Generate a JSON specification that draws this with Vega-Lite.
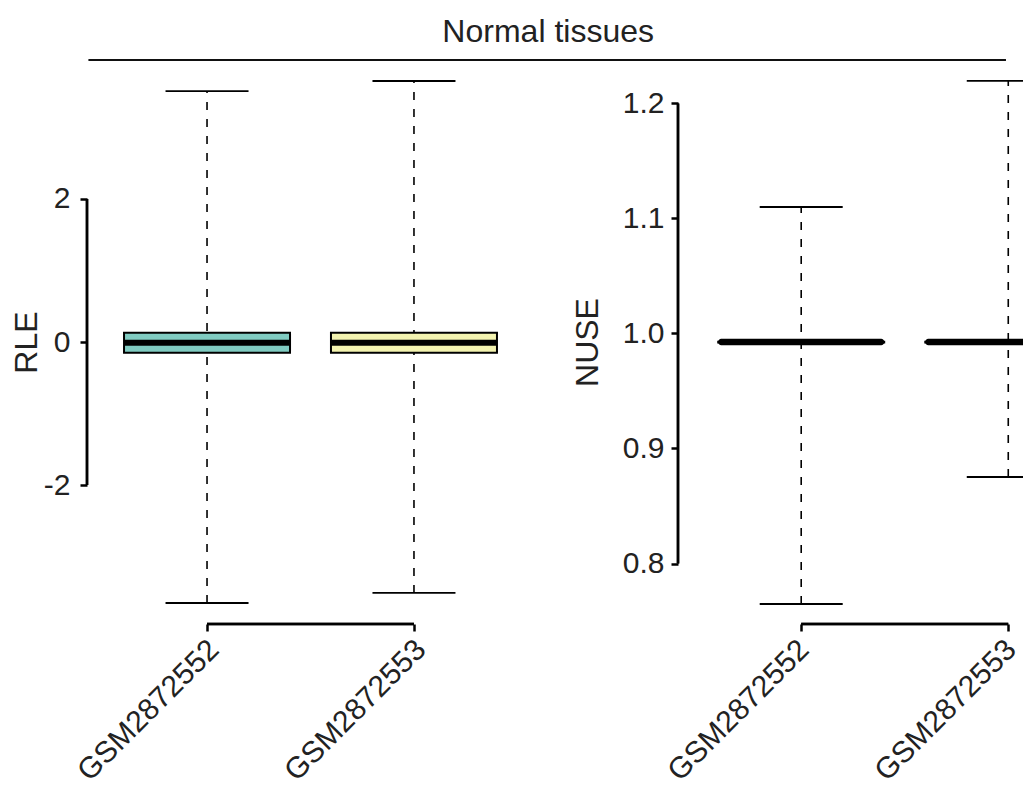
{
  "$schema": "https://vega.github.io/schema/vega-lite/v6.json",
  "padding": {"left": 10, "top": 16, "right": 0, "bottom": 0},
  "background": "white",
  "config": {
    "font": "Liberation Sans",
    "view": {"stroke": null},
    "scale": {"continuousPadding": 0},
    "axis": {"grid": false, "domain": false, "tickColor": "black", "tickWidth": 2.5, "tickSize": 7, "labelColor": "#222222", "titleColor": "#222222", "labelFontSize": 30, "titleFontSize": 32, "titleFontWeight": "normal", "labelPadding": 7, "labelLimit": 400}
  },
  "title": {"text": "Normal tissues", "fontSize": 32, "fontWeight": "normal", "color": "#222222", "anchor": "middle", "dx": 31, "offset": 10},
  "datasets": {
    "rle": [
      {"sample": "GSM2872552", "sample_no": 1, "lower": -3.65, "q1": -0.15, "median": -0.01, "q3": 0.13, "upper": 3.51},
      {"sample": "GSM2872553", "sample_no": 2, "lower": -3.51, "q1": -0.15, "median": -0.01, "q3": 0.13, "upper": 3.65}
    ],
    "nuse": [
      {"sample": "GSM2872552", "sample_no": 1, "lower": 0.7648, "q1": 0.9922, "median": 0.9925, "q3": 0.9928, "upper": 1.110},
      {"sample": "GSM2872553", "sample_no": 2, "lower": 0.8752, "q1": 0.9922, "median": 0.9925, "q3": 0.9928, "upper": 1.2196}
    ]
  },
  "bounds": "flush",
  "spacing": 144,
  "hconcat": [
    {
      "width": 447,
      "height": 564,
      "data": {"name": "rle"},
      "layer": [
        {"mark": {"type": "rule", "strokeDash": [8, 9], "strokeWidth": 1.6, "color": "black"},
         "encoding": {
           "x": {"field": "sample_no", "type": "quantitative", "scale": {"domain": [0.42, 2.58], "nice": false, "zero": false, "padding": 0},
                 "axis": {"values": [1, 2], "labelExpr": "datum.value == 1 ? 'GSM2872552' : 'GSM2872553'", "labelAngle": -45, "labelAlign": "right", "labelBaseline": "top", "labelFontSize": 30, "labelPadding": 3, "labelOffset": -4, "title": null}},
           "y": {"field": "lower", "type": "quantitative", "scale": {"domain": [-3.944, 3.944], "nice": false, "zero": false},
                 "axis": {"values": [-2, 0, 2], "labelExpr": "'' + datum.value", "labelPadding": 10, "title": "RLE", "titlePadding": 0}},
           "y2": {"field": "upper"}}},
        {"mark": {"type": "tick", "orient": "horizontal", "size": 83, "thickness": 1.8, "color": "black", "opacity": 1},
         "encoding": {"x": {"field": "sample_no", "type": "quantitative"}, "y": {"field": "upper", "type": "quantitative"}}},
        {"mark": {"type": "tick", "orient": "horizontal", "size": 83, "thickness": 1.8, "color": "black", "opacity": 1},
         "encoding": {"x": {"field": "sample_no", "type": "quantitative"}, "y": {"field": "lower", "type": "quantitative"}}},
        {"mark": {"type": "bar", "size": 166, "stroke": "black", "strokeWidth": 2, "opacity": 1},
         "encoding": {"x": {"field": "sample_no", "type": "quantitative"}, "y": {"field": "q1", "type": "quantitative"}, "y2": {"field": "q3"},
                      "fill": {"field": "sample", "type": "nominal", "scale": {"range": ["#80CBC1", "#F3F3B0"]}, "legend": null}}},
        {"mark": {"type": "tick", "orient": "horizontal", "size": 166, "thickness": 6, "color": "black", "opacity": 1},
         "encoding": {"x": {"field": "sample_no", "type": "quantitative"}, "y": {"field": "median", "type": "quantitative"}}},
        {"mark": {"type": "rule", "strokeWidth": 2.5, "color": "black"},
         "encoding": {"x": {"datum": 0.42, "type": "quantitative"}, "y": {"datum": -2, "type": "quantitative"}, "y2": {"datum": 2}}},
        {"mark": {"type": "rule", "strokeWidth": 2.5, "color": "black"},
         "encoding": {"x": {"datum": 1, "type": "quantitative"}, "x2": {"datum": 2}, "y": {"datum": -3.944, "type": "quantitative"}}},
        {"mark": {"type": "rule", "strokeWidth": 2, "color": "#111111"},
         "encoding": {"x": {"datum": 0.428, "type": "quantitative"}, "x2": {"datum": 4.86}, "y": {"datum": 3.944, "type": "quantitative"}}}
      ]
    },
    {
      "width": 346,
      "height": 564,
      "data": {"name": "nuse"},
      "layer": [
        {"mark": {"type": "rule", "strokeDash": [8, 9], "strokeWidth": 1.6, "color": "black", "clip": true},
         "encoding": {
           "x": {"field": "sample_no", "type": "quantitative", "scale": {"domain": [0.405, 2.076], "nice": false, "zero": false, "padding": 0},
                 "axis": {"values": [1, 2], "labelExpr": "datum.value == 1 ? 'GSM2872552' : 'GSM2872553'", "labelAngle": -45, "labelAlign": "right", "labelBaseline": "top", "labelFontSize": 30, "labelPadding": 3, "labelOffset": -8, "title": null}},
           "y": {"field": "lower", "type": "quantitative", "scale": {"domain": [0.7474, 1.2378], "nice": false, "zero": false},
                 "axis": {"values": [0.8, 0.9, 1.0, 1.1, 1.2], "format": ".1f", "title": "NUSE", "titlePadding": 18}},
           "y2": {"field": "upper"}}},
        {"mark": {"type": "tick", "orient": "horizontal", "size": 83, "thickness": 1.8, "color": "black", "opacity": 1, "clip": true},
         "encoding": {"x": {"field": "sample_no", "type": "quantitative"}, "y": {"field": "upper", "type": "quantitative"}}},
        {"mark": {"type": "tick", "orient": "horizontal", "size": 83, "thickness": 1.8, "color": "black", "opacity": 1, "clip": true},
         "encoding": {"x": {"field": "sample_no", "type": "quantitative"}, "y": {"field": "lower", "type": "quantitative"}}},
        {"mark": {"type": "bar", "size": 166, "stroke": "black", "strokeWidth": 2, "opacity": 1, "clip": true},
         "encoding": {"x": {"field": "sample_no", "type": "quantitative"}, "y": {"field": "q1", "type": "quantitative"}, "y2": {"field": "q3"},
                      "fill": {"field": "sample", "type": "nominal", "scale": {"range": ["#80CBC1", "#F3F3B0"]}, "legend": null}}},
        {"mark": {"type": "tick", "orient": "horizontal", "size": 166, "thickness": 6.5, "cornerRadius": 3, "color": "black", "opacity": 1, "clip": true},
         "encoding": {"x": {"field": "sample_no", "type": "quantitative"}, "y": {"field": "median", "type": "quantitative"}}},
        {"mark": {"type": "rule", "strokeWidth": 2.5, "color": "black"},
         "encoding": {"x": {"datum": 0.405, "type": "quantitative"}, "y": {"datum": 0.8, "type": "quantitative"}, "y2": {"datum": 1.2}}},
        {"mark": {"type": "rule", "strokeWidth": 2.5, "color": "black"},
         "encoding": {"x": {"datum": 1, "type": "quantitative"}, "x2": {"datum": 2}, "y": {"datum": 0.7474, "type": "quantitative"}}}
      ]
    }
  ]
}
